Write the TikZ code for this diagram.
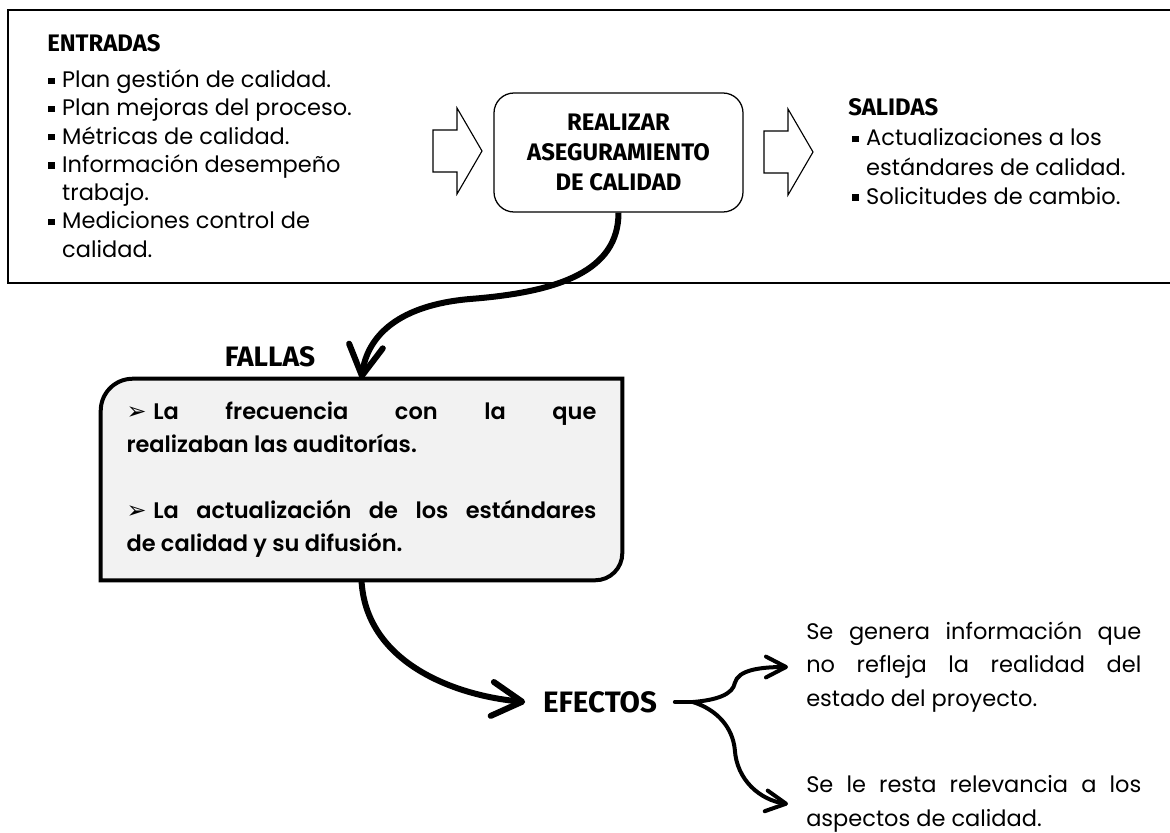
\documentclass[tikz,border=0pt]{standalone}
\usepackage{fontspec}
\setmainfont{Poppins}
\newfontfamily\headfont{Fira Sans}
\newfontfamily\semifont{Poppins}[UprightFont={* SemiBold}]
\newfontfamily\symfont{DejaVu Sans}
\usetikzlibrary{arrows.meta,backgrounds}
\definecolor{fallfill}{HTML}{F2F2F2}
\newcommand{\bul}{\makebox[9.9pt][l]{\rule[2.6pt]{4.6pt}{4.6pt}}}
\newcommand{\sang}{\hspace*{9.9pt}}
\newcommand{\flecha}{{\symfont\fontsize{17}{17}\selectfont ➢}\hspace{0.3em}}
\begin{document}
\begin{tikzpicture}[
    head/.style={inner sep=0pt, font=\headfont\bfseries\fontsize{17}{20}\selectfont},
    lst/.style={inner sep=0pt, align=left, anchor=north west, font=\fontsize{16}{20.1}\selectfont},
    proc/.style={rectangle, draw, line width=0.9pt, rounded corners=0.5cm, minimum width=6.225cm,
                 minimum height=2.975cm, align=center, font=\headfont\bfseries\fontsize{17}{21.3}\selectfont},
    falla/.style={text width=11.75cm, inner xsep=0.6375cm, minimum height=5.025cm, align=justify,
                  font=\semifont\fontsize{16}{23.4}\selectfont},
    efecto/.style={anchor=west, text width=8.375cm, inner xsep=0.45cm, inner ysep=0pt, align=justify,
                   font=\fontsize{16}{23.7}\selectfont},
    blk/.style={draw, line width=0.8pt, line join=miter},
    big/.style={line width=0.15cm, -{Straight Barb[length=0.75cm, width=0.85cm, round]}},
    brc/.style={line width=0.1cm, line cap=round, line join=round}
]
    \useasboundingbox (0,0) rectangle (29.25,20.8);

    % marco superior
    \draw[line width=1.1pt] (29.5,20.55) -- (0.2,20.55) -- (0.2,13.725) -- (29.5,13.725);

    \node[head, anchor=west] (entradas) at (1.175,19.725) {ENTRADAS};
    \node[lst] (entlist) at (1.2,19.06) {\bul Plan gestión de calidad.\\
        \bul Plan mejoras del proceso.\\
        \bul Métricas de calidad.\\
        \bul Información desempeño\\
        \sang trabajo.\\
        \bul Mediciones control de\\
        \sang calidad.};

    \draw[blk] (10.825,17.55) -- ++(0.6,0) -- ++(0,0.55) -- ++(0.625,-1.075)
        -- ++(-0.625,-1.075) -- ++(0,0.55) -- ++(-0.6,0) -- cycle;
    \node[proc] (proc) at (15.4625,16.9875) {REALIZAR\\ASEGURAMIENTO\\DE CALIDAD};
    \draw[blk] (19.1,17.525) -- ++(0.6,0) -- ++(0,0.55) -- ++(0.625,-1.075)
        -- ++(-0.625,-1.075) -- ++(0,0.55) -- ++(-0.6,0) -- cycle;

    \node[head, anchor=west] (salidas) at (21.2,18.125) {SALIDAS};
    \node[lst, font=\fontsize{16}{20.8}\selectfont] (sallist) at (21.3,17.585) {\bul Actualizaciones a los\\
        \sang estándares de calidad.\\
        \bul Solicitudes de cambio.};

    % fallas
    \node[head, font=\headfont\bfseries\fontsize{20}{24}\selectfont] (fallastit) at (6.75,11.875) {FALLAS};
    \node[falla] (fallas) at (9.0375,8.8125) {\flecha La frecuencia con la que\linebreak
        realizaban las auditorías.\\[23.4pt]
        \flecha La actualización de los estándares\linebreak de calidad y su difusión.};
    \begin{scope}[on background layer]
        \draw[line width=0.1cm, fill=fallfill] (fallas.south west)
            -- ([yshift=-0.8cm]fallas.north west) arc[start angle=180, end angle=90, radius=0.8cm]
            -- (fallas.north east)
            -- ([yshift=0.675cm]fallas.south east) arc[start angle=0, end angle=-90, radius=0.675cm]
            -- cycle;
    \end{scope}

    % efectos
    \node[head, inner xsep=0.44cm, font=\headfont\bfseries\fontsize{21}{25}\selectfont] (efectos) at (15.0,3.25) {EFECTOS};
    \node[efecto] (efecto1) at (19.7,4.125) {Se genera información que\linebreak
        no refleja la realidad del\linebreak estado del proyecto.};
    \node[efecto] (efecto2) at (19.7,0.7) {Se le resta relevancia a los\linebreak
        aspectos de calidad.};
    \coordinate (split) at ([xshift=0.45cm]efectos.east);

    \draw[big] (proc.south) .. controls +(0,-1.45) and +(2.25,0.175) .. (11.75,13.325)
        .. controls +(-1.75,-0.15) and +(0.15,1.1) .. (fallas.north);
    \draw[big] (fallas.south) .. controls +(0.1,-2.0) and +(-1.875,0.175) .. (efectos.west);

    \draw[brc] (efectos.east) -- (split);
    \draw[brc, {Straight Barb[length=0.5cm, width=0.52cm, round]}-{Straight Barb[length=0.5cm, width=0.52cm, round]}]
        (efecto1.west) .. controls +(-0.7,0) and +(0.075,0.325) .. ([xshift=1.05cm, yshift=0.475cm]split)
        .. controls +(-0.05,-0.275) and +(0.625,0.05) .. (split)
        .. controls +(0.625,-0.2) and +(-0.05,0.55) .. ([xshift=1.05cm, yshift=-1.2cm]split)
        .. controls +(0.05,-0.75) and +(-0.7,0.1) .. (efecto2.west);
\end{tikzpicture}
\end{document}
